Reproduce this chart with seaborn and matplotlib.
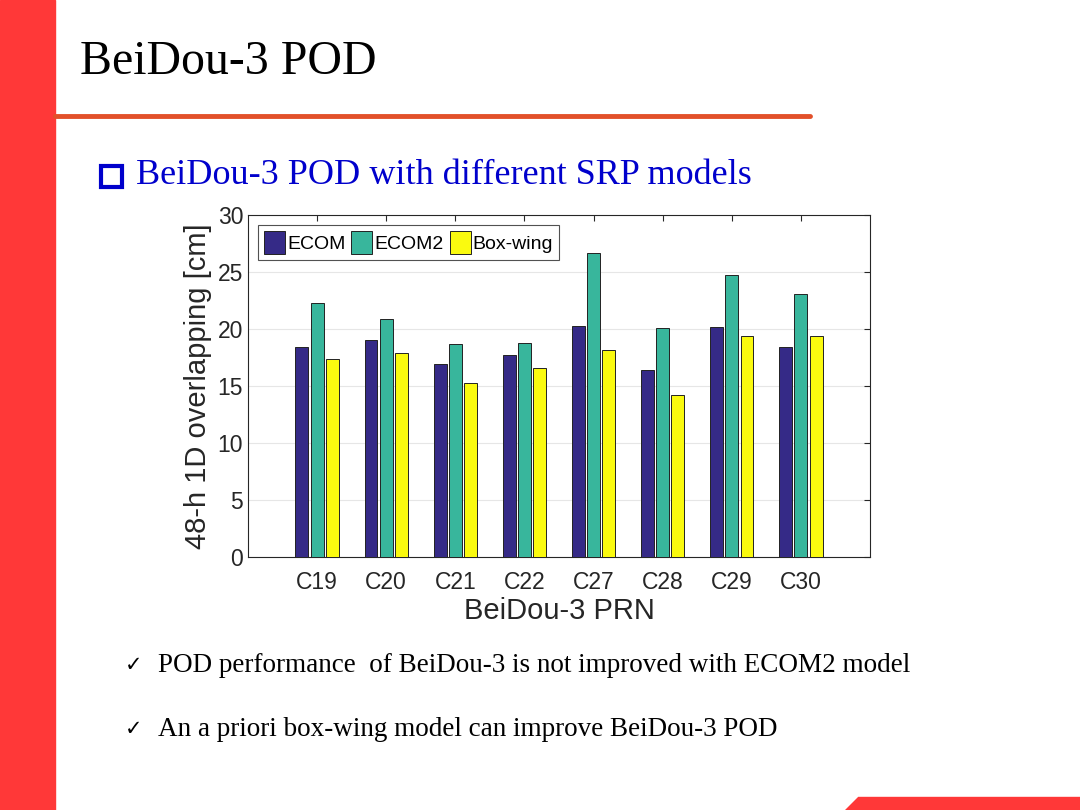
import pandas as pd
import seaborn as sns
import matplotlib.pyplot as plt
from matplotlib.patches import Rectangle, Polygon
from matplotlib.lines import Line2D

# values
prn = ['C19', 'C20', 'C21', 'C22', 'C27', 'C28', 'C29', 'C30']
ecom = [18.4, 19.0, 16.9, 17.7, 20.3, 16.4, 20.2, 18.4]
ecom2 = [22.3, 20.9, 18.7, 18.8, 26.7, 20.1, 24.7, 23.1]
boxwing = [17.4, 17.9, 15.3, 16.6, 18.2, 14.2, 19.4, 19.4]
models = ['ECOM', 'ECOM2', 'Box-wing']
colors = ['#352A87', '#38B69C', '#FAFA0F']

df = pd.DataFrame({'PRN': prn * 3,
                   'model': [m for m in models for _ in prn],
                   'value': ecom + ecom2 + boxwing})

sns.set_style('white')
plt.rcParams['text.color'] = 'black'
fig = plt.figure(figsize=(10.8, 8.1), dpi=100)
fig.patch.set_facecolor('white')

# slide decorations
fig.patches.append(Rectangle((0, 0), 55 / 1080, 1, transform=fig.transFigure,
                             color='#FF3838', zorder=0))
fig.lines.append(Line2D([55 / 1080, 810 / 1080], [1 - 116 / 810] * 2,
                        transform=fig.transFigure, color='#E2502A', lw=3.5))
fig.patches.append(Polygon([(845 / 1080, 0), (1, 0), (1, 13 / 810), (858 / 1080, 13 / 810)],
                           closed=True, transform=fig.transFigure, color='#FF3838'))
fig.text(80 / 1080, 1 - 62 / 810, 'BeiDou-3 POD', family='Liberation Serif',
         fontsize=34.5, va='center', ha='left', color='black')
fig.patches.append(Rectangle((101 / 1080, 1 - 187 / 810), 21 / 1080, 21 / 810,
                             transform=fig.transFigure, fill=False,
                             edgecolor='#0000CC', lw=3))
fig.text(136 / 1080, 1 - 176 / 810, 'BeiDou-3 POD with different SRP models',
         family='Liberation Serif', fontsize=26, color='#0000CC', va='center')
fig.text(125 / 1080, 1 - 665 / 810, '✓', family=['DejaVu Sans'], fontsize=15,
         va='center', color='black')
fig.text(158 / 1080, 1 - 665 / 810,
         'POD performance  of BeiDou-3 is not improved with ECOM2 model',
         family='Liberation Serif', fontsize=19.5, va='center', color='black')
fig.text(125 / 1080, 1 - 729 / 810, '✓', family=['DejaVu Sans'], fontsize=15,
         va='center', color='black')
fig.text(158 / 1080, 1 - 729 / 810, 'An a priori box-wing model can improve BeiDou-3 POD',
         family='Liberation Serif', fontsize=19.5, va='center', color='black')

# chart
ax = fig.add_axes([248 / 1080, 1 - 557 / 810, 622 / 1080, 342 / 810])
sns.barplot(data=df, x='PRN', y='value', hue='model', palette=colors,
            saturation=1, width=0.66, gap=0.15, edgecolor='#222222',
            linewidth=0.7, ax=ax, zorder=3)
ax.set_xlim(-1, 8)
ax.set_ylim(0, 30)
ax.set_yticks(range(0, 31, 5))
ax.yaxis.grid(True, color='#E6E6E6', lw=0.8)
ax.set_axisbelow(True)
for s in ax.spines.values():
    s.set_visible(True)
    s.set_color('#262626')
    s.set_linewidth(0.8)
ax.tick_params(direction='in', length=4, top=True, right=True, labelsize=16.5,
               colors='#262626', labelcolor='#262626')
ax.tick_params(axis='x', pad=10)
ax.set_xlabel('BeiDou-3 PRN', fontsize=21, family='Liberation Sans', color='#262626',
              labelpad=2)
ax.set_ylabel('48-h 1D overlapping [cm]', fontsize=21, family='Liberation Sans',
              color='#262626', labelpad=4)
for lab in ax.get_xticklabels() + ax.get_yticklabels():
    lab.set_family('Liberation Sans')

leg = ax.legend(loc='upper left', ncol=3, frameon=True,
                handlelength=1.1, handleheight=1.5, handletextpad=0.1,
                columnspacing=0.3, borderpad=0.3, borderaxespad=0.5,
                fancybox=False, edgecolor='#262626',
                prop={'family': 'Liberation Sans', 'size': 14})
leg.get_frame().set_linewidth(0.8)

fig.savefig('out.png', dpi=100)
